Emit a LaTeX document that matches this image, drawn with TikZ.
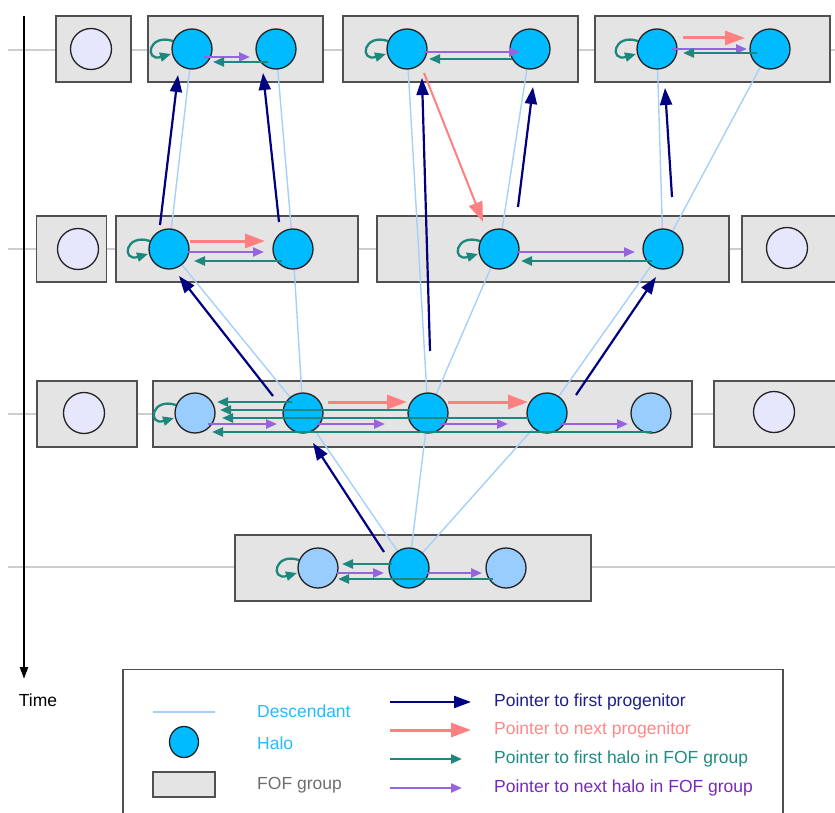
\documentclass[tikz,border=0pt]{standalone}
\usepackage{fontspec}
\setmainfont{Liberation Sans}
\usetikzlibrary{arrows.meta,calc,shapes.geometric}

\definecolor{navyc}{RGB}{0,0,128}
\definecolor{salmonc}{RGB}{255,128,128}
\definecolor{tealc}{RGB}{30,135,125}
\definecolor{purplec}{RGB}{150,100,220}
\definecolor{desccol}{RGB}{165,208,250}
\definecolor{haloblue}{RGB}{0,187,255}
\definecolor{subblue}{RGB}{153,204,255}
\definecolor{lavend}{RGB}{230,230,252}
\definecolor{fofgray}{RGB}{228,228,228}
\definecolor{fofedge}{RGB}{80,80,80}
\definecolor{haloedge}{RGB}{35,35,35}
\definecolor{tlgray}{RGB}{205,205,205}
\definecolor{desctext}{RGB}{40,185,255}
\definecolor{foftext}{RGB}{110,110,110}
\definecolor{navytext}{RGB}{30,30,140}
\definecolor{salmontext}{RGB}{255,135,135}
\definecolor{tealtext}{RGB}{30,140,130}
\definecolor{purpletext}{RGB}{120,40,190}

\pgfdeclarelayer{base}
\pgfdeclarelayer{desc}
\pgfsetlayers{base,desc,main}

% self-pointer of the first halo in a FOF group
\newcommand\fofloop[1]{%
  \draw[firsthalo] ($(#1)+(-19,-8)$) .. controls ($(#1)+(-44,-16)$) and ($(#1)+(-48,13)$) .. ($(#1)+(-21,5)$);}

\begin{document}
\begin{tikzpicture}[x=1pt,y=-1pt,
  fof/.style={draw=fofedge, fill=fofgray, line width=1.4pt, minimum height=66pt, inner sep=0},
  halo/.style={circle, draw=haloedge, line width=1.3pt, fill=haloblue, minimum size=40pt, inner sep=0},
  subhalo/.style={halo, fill=subblue},
  idle/.style={halo, fill=lavend, minimum size=41pt},
  descline/.style={draw=desccol, line width=1.4pt},
  timeline/.style={draw=tlgray, line width=1.3pt},
  firstprog/.style={draw=navyc, line width=2.2pt, -{Triangle[length=17pt,width=12pt]}},
  nextprog/.style={draw=salmonc, line width=3pt, -{Triangle[length=20pt,width=14pt]}},
  firsthalo/.style={draw=tealc, line width=2.3pt, -{Triangle[length=11pt,width=9pt]}},
  nexthalo/.style={draw=purplec, line width=2.3pt, -{Triangle[length=11pt,width=9pt]}},
  label/.style={anchor=west, inner sep=0},
  font=\fontsize{17.5}{21}\selectfont]

\useasboundingbox (0,0) rectangle (835,813);

% ---------- snapshots: time lines and FOF groups ----------
\begin{pgfonlayer}{base}
  \foreach \n/\y in {1/50,2/249,3/414,4/567}{
    \coordinate (tla\n) at (8,\y);
    \coordinate (tlb\n) at (835,\y);
    \draw[timeline] (tla\n) -- (tlb\n);
  }
  \node[fof, minimum width=75pt]  (g11) at (93.5,49) {};
  \node[fof, minimum width=175pt] (g12) at (235.5,49) {};
  \node[fof, minimum width=235pt] (g13) at (460.5,49) {};
  \node[fof, minimum width=235pt] (g14) at (712.5,49) {};
  \node[fof, minimum width=70pt]  (g21) at (71.5,249) {};
  \node[fof, minimum width=242pt] (g22) at (237,249) {};
  \node[fof, minimum width=352pt] (g23) at (553,249) {};
  \node[fof, minimum width=110pt] (g24) at (797,249) {};
  \node[fof, minimum width=100pt] (g31) at (87,414) {};
  \node[fof, minimum width=539pt] (g32) at (422.5,414) {};
  \node[fof, minimum width=140pt] (g33) at (784,414) {};
  \node[fof, minimum width=356pt] (g41) at (413,568) {};
\end{pgfonlayer}

% ---------- halos ----------
\node[idle] (e1) at (91,49) {};
\node[halo] (h11) at (192,49) {};
\node[halo] (h12) at (276,49) {};
\node[halo] (h13) at (407,49) {};
\node[halo] (h14) at (530,49) {};
\node[halo] (h15) at (657,49) {};
\node[halo] (h16) at (770,49) {};

\node[idle] (e2) at (78,249) {};
\node[halo] (h21) at (169,249) {};
\node[halo] (h22) at (293,249) {};
\node[halo] (h23) at (499,249) {};
\node[halo] (h24) at (663,249) {};
\node[idle] (e2b) at (787,248) {};

\node[idle] (e3) at (84,413) {};
\node[subhalo] (s31) at (195,413) {};
\node[halo] (h32) at (303,413) {};
\node[halo] (h33) at (428,413) {};
\node[halo] (h34) at (547,413) {};
\node[subhalo] (s35) at (651,413) {};
\node[idle] (e3b) at (774,412) {};

\node[subhalo] (s41) at (318,568) {};
\node[halo] (h42) at (409,568) {};
\node[subhalo] (s43) at (506,568) {};

% ---------- descendants ----------
\begin{pgfonlayer}{desc}
  \foreach \a/\b in {h11/h21,h12/h22,h13/h33,h14/h23,h15/h24,h16/h24,
                     h21/h32,h22/h32,h23/h33,h24/h34,
                     h32/h42,h33/h42,h34/h42}
    \draw[descline] (\a.center) -- (\b.center);
\end{pgfonlayer}

% ---------- first progenitor ----------
\draw[firstprog] ($(h21)+(-9,-24)$) -- ($(h11)+(-14,26)$);
\draw[firstprog] ($(h22)+(-14,-27)$) -- ($(h12)+(-13,24)$);
\draw[firstprog] ($(h23)+(19,-42)$) -- ($(h14)+(3,38)$);
\draw[firstprog] ($(h24)+(9,-52)$) -- ($(h15)+(8,39)$);
\draw[firstprog] ($(h32)+(-30,-17)$) -- ($(h21)+(10,27)$);
\draw[firstprog] ($(h33)+(2,-62)$) -- ($(h13)+(15,29)$);
\draw[firstprog] ($(h34)+(29,-18)$) -- ($(h24)+(-7,28)$);
\draw[firstprog] ($(h42)+(-25,-16)$) -- ($(h32)+(10,30)$);

% ---------- next progenitor ----------
\draw[nextprog, line width=2pt] ($(h13)+(17,24)$) -- ($(h23)+(-16,-27)$);
\draw[nextprog] ($(h15)+(26,-11)$) -- ($(h16)+(-25,-11)$);
\draw[nextprog] ($(h21)+(21,-8)$) -- ($(h22)+(-28,-8)$);
\draw[nextprog] ($(h32)+(25,-11)$) -- ($(h33)+(-21,-11)$);
\draw[nextprog] ($(h33)+(20,-11)$) -- ($(h34)+(-19,-11)$);

% ---------- next halo in FOF group ----------
\draw[nexthalo] ($(h11)+(12,8)$) -- ($(h12)+(-26,8)$);
\draw[nexthalo] ($(h13)+(17,3)$) -- ($(h14)+(-10,3)$);
\draw[nexthalo] ($(h15)+(15,0)$) -- ($(h16)+(-23,0)$);
\draw[nexthalo] ($(h21)+(19,3)$) -- ($(h22)+(-29,3)$);
\draw[nexthalo] ($(h23)+(18,3)$) -- ($(h24)+(-28,3)$);
\draw[nexthalo] ($(s31)+(13,11)$) -- ($(h32)+(-26,11)$);
\draw[nexthalo] ($(h32)+(14,11)$) -- ($(h33)+(-43,11)$);
\draw[nexthalo] ($(h33)+(12,11)$) -- ($(h34)+(-39,11)$);
\draw[nexthalo] ($(h34)+(13,11)$) -- ($(s35)+(-23,11)$);
\draw[nexthalo] ($(s41)+(19,5)$) -- ($(h42)+(-25,5)$);
\draw[nexthalo] ($(h42)+(18,5)$) -- ($(s43)+(-24,5)$);

% ---------- first halo in FOF group ----------
\draw[firsthalo] ($(h12)+(-8,13)$) -- ($(h11)+(21,13)$);
\draw[firsthalo] ($(h14)+(-18,10)$) -- ($(h13)+(22,10)$);
\draw[firsthalo] ($(h16)+(-13,4)$) -- ($(h15)+(26,4)$);
\draw[firsthalo] ($(h22)+(-11,12)$) -- ($(h21)+(25,12)$);
\draw[firsthalo] ($(h24)+(-11,12)$) -- ($(h23)+(22,12)$);
\draw[firsthalo] ($(h32)+(-11,-11)$) -- ($(s31)+(22,-11)$);
\draw[firsthalo] ($(h33)+(-18,-3)$) -- ($(s31)+(25,-3)$);
\draw[firsthalo] ($(h34)+(-19,5)$) -- ($(s31)+(27,5)$);
\draw[firsthalo] ($(s35)+(1,19)$) -- ($(s31)+(17,19)$);
\draw[firsthalo] ($(h42)+(-17,-4)$) -- ($(s41)+(24,-4)$);
\draw[firsthalo] ($(s43)+(-13,11)$) -- ($(s41)+(20,11)$);
\foreach \h in {h11,h13,h15,h21,h23,s31,s41} { \fofloop{\h} }

% ---------- time axis ----------
\coordinate (t0) at (24,16);
\coordinate (t1) at (24,679);
\draw[line width=2.4pt, -{Triangle[length=12pt,width=8pt]}] (t0) -- (t1);
\node[inner sep=0] (time) at (38,700) {Time};

% ---------- legend ----------
\node[draw=fofedge, line width=1.4pt, minimum width=660pt, minimum height=160pt, inner sep=0] (legend) at (453,749.5) {};
\coordinate (ld1) at (153,712);
\coordinate (ld2) at (215,712);
\draw[descline] (ld1) -- (ld2);
\node[halo, ellipse, minimum width=29pt, minimum height=31pt] (lhalo) at (184,742) {};
\node[fof, minimum width=62pt, minimum height=25pt] (lfof) at (184,784.5) {};
\node[label, text=desctext] (tdesc) at (257,711) {Descendant};
\node[label, text=desctext] (thalo) at (257,743) {Halo};
\node[label, text=foftext] (tfof) at (257,785) {FOF group};

\foreach \n/\y in {1/702,2/730,3/759,4/788}{
  \coordinate (la\n) at (390,\y);
}
\coordinate (lb1) at (471,702);
\coordinate (lb2) at (471,730);
\coordinate (lb3) at (462,759);
\coordinate (lb4) at (462,788);
\draw[firstprog] (la1) -- (lb1);
\draw[nextprog] (la2) -- (lb2);
\draw[firsthalo] (la3) -- (lb3);
\draw[nexthalo] (la4) -- (lb4);
\node[label, text=navytext] (tfp) at (494,702) {Pointer to first progenitor};
\node[label, text=salmontext] (tnp) at (494,730) {Pointer to next progenitor};
\node[label, text=tealtext] (tfh) at (494,759) {Pointer to first halo in FOF group};
\node[label, text=purpletext] (tnh) at (494,788) {Pointer to next halo in FOF group};

\end{tikzpicture}
\end{document}
